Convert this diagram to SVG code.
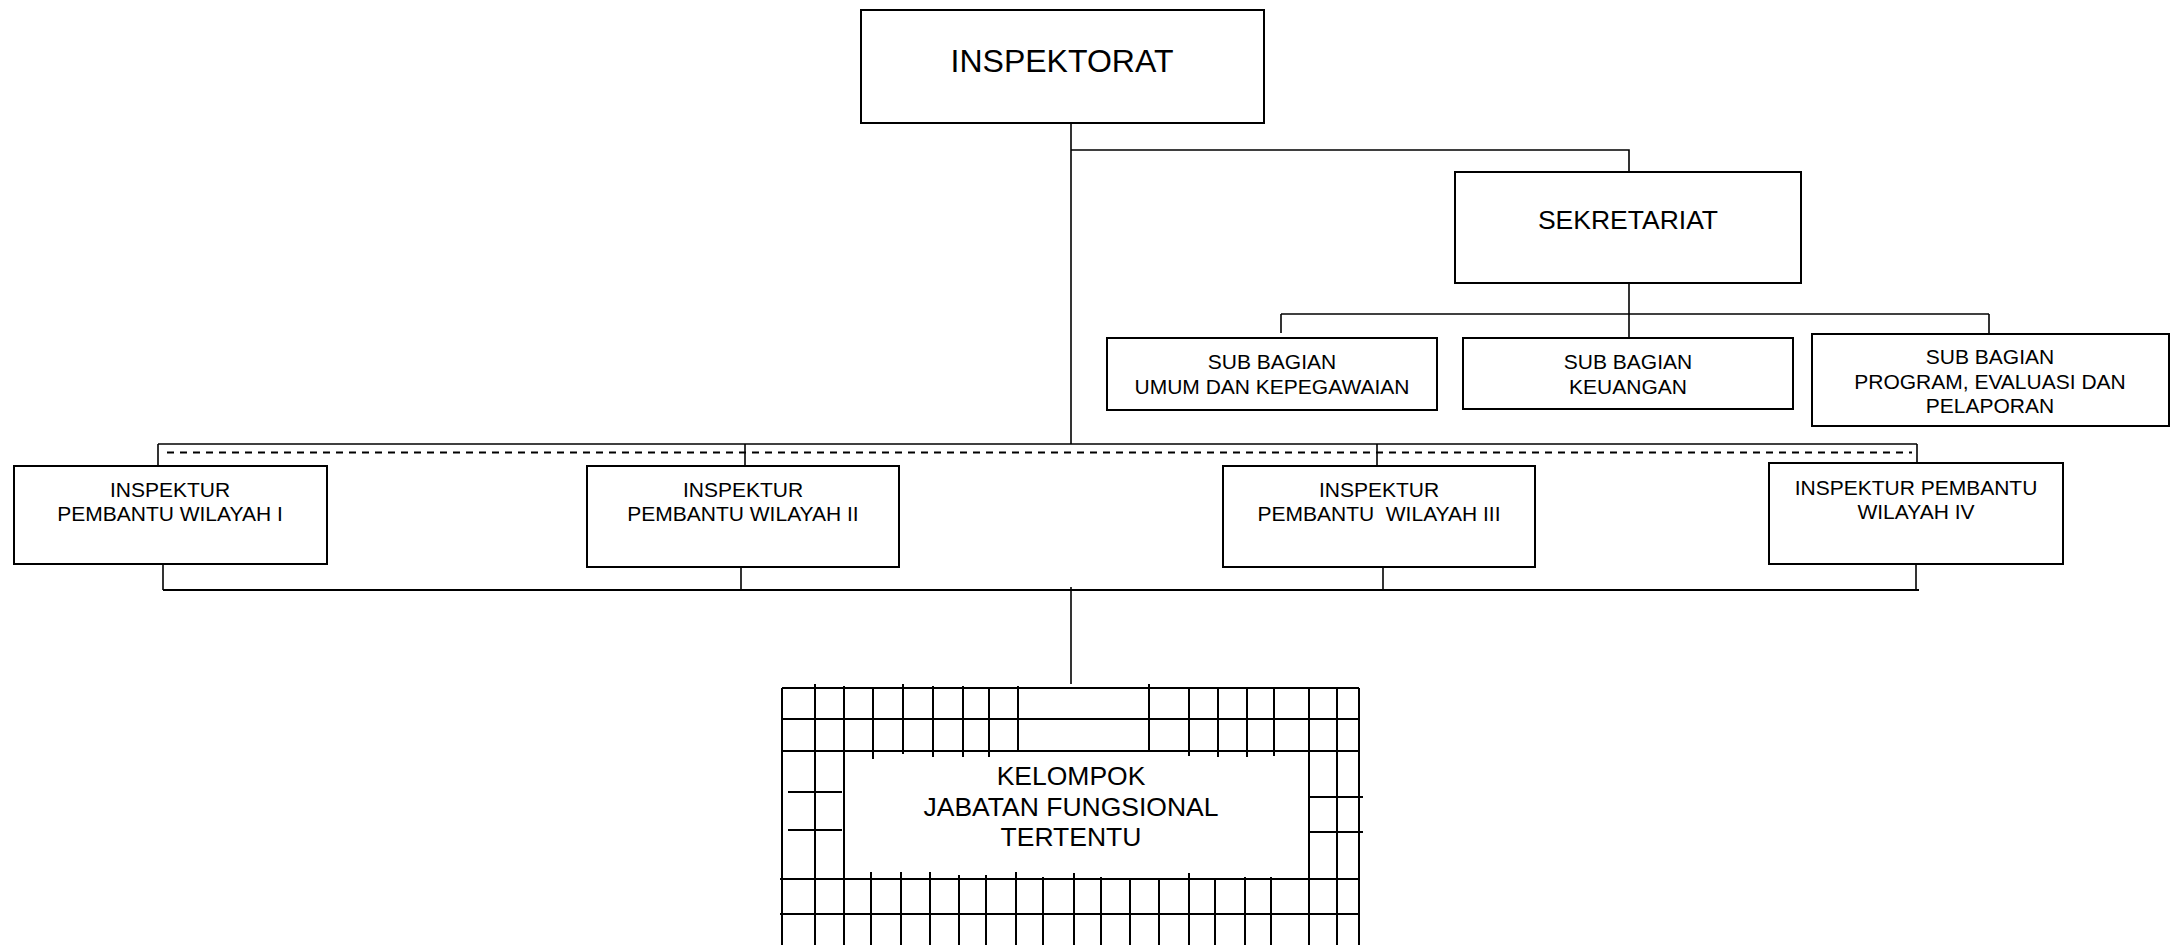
<svg xmlns="http://www.w3.org/2000/svg" width="2174" height="945" viewBox="0 0 2174 945">
<style>
.box{fill:#fff;stroke:#000;stroke-width:2}
.ln{stroke:#000;stroke-width:1.6;fill:none}
.ln2{stroke:#000;stroke-width:2;fill:none}
.dash{stroke:#000;stroke-width:1.8;fill:none;stroke-dasharray:7 6}
.g{stroke:#000;stroke-width:2;fill:none}
text{font-family:"Liberation Sans",Arial,sans-serif;fill:#000;text-anchor:middle}
.t21{font-size:21px}
.t26{font-size:26.5px}
.t32{font-size:32px}
</style>
<rect width="2174" height="945" fill="#fff"/>
<g id="connectors">
<path class="ln" d="M1071 123V444"/>
<path class="ln" d="M1071 150H1629V172"/>
<path class="ln" d="M1629 283V314"/>
<path class="ln" d="M1281 314H1989"/>
<path class="ln" d="M1281 314V333"/>
<path class="ln" d="M1629 314V338"/>
<path class="ln" d="M1989 314V334"/>
<path class="ln" d="M158 444H1917"/>
<path class="dash" d="M167 452.5H1912"/>
<path class="ln" d="M158 444V466"/>
<path class="ln" d="M745 444V466"/>
<path class="ln" d="M1377 444V466"/>
<path class="ln" d="M1917 444V463"/>
<path class="ln" d="M163 562V590"/>
<path class="ln" d="M741 562V590"/>
<path class="ln" d="M1383 562V590"/>
<path class="ln" d="M1916 562V590"/>
<path class="ln2" d="M163 590H1919"/>
<path class="ln" d="M1071 587V684"/>
</g>
<g id="inspektorat">
<rect class="box" x="861" y="10" width="403" height="113"/>
<text class="t32" x="1062" y="72">INSPEKTORAT</text>
</g>
<g id="sekretariat">
<rect class="box" x="1455" y="172" width="346" height="111"/>
<text class="t26" x="1628" y="229">SEKRETARIAT</text>
</g>
<g id="sub-umum">
<rect class="box" x="1107" y="338" width="330" height="72"/>
<text class="t21" x="1272" y="369">SUB BAGIAN</text>
<text class="t21" x="1272" y="394">UMUM DAN KEPEGAWAIAN</text>
</g>
<g id="sub-keuangan">
<rect class="box" x="1463" y="338" width="330" height="71"/>
<text class="t21" x="1628" y="369">SUB BAGIAN</text>
<text class="t21" x="1628" y="394">KEUANGAN</text>
</g>
<g id="sub-program">
<rect class="box" x="1812" y="334" width="357" height="92"/>
<text class="t21" x="1990" y="364">SUB BAGIAN</text>
<text class="t21" x="1990" y="389">PROGRAM, EVALUASI DAN</text>
<text class="t21" x="1990" y="413">PELAPORAN</text>
</g>
<g id="wilayah-1">
<rect class="box" x="14" y="466" width="313" height="98"/>
<text class="t21" x="170" y="497">INSPEKTUR</text>
<text class="t21" x="170" y="521">PEMBANTU WILAYAH I</text>
</g>
<g id="wilayah-2">
<rect class="box" x="587" y="466" width="312" height="101"/>
<text class="t21" x="743" y="497">INSPEKTUR</text>
<text class="t21" x="743" y="521">PEMBANTU WILAYAH II</text>
</g>
<g id="wilayah-3">
<rect class="box" x="1223" y="466" width="312" height="101"/>
<text class="t21" x="1379" y="497">INSPEKTUR</text>
<text class="t21" x="1379" y="521" xml:space="preserve">PEMBANTU  WILAYAH III</text>
</g>
<g id="wilayah-4">
<rect class="box" x="1769" y="463" width="294" height="101"/>
<text class="t21" x="1916" y="495">INSPEKTUR PEMBANTU</text>
<text class="t21" x="1916" y="519">WILAYAH IV</text>
</g>
<g id="kelompok">
<path class="g" d="M782 688V945M1359 688V945M782 688H1359M782 719H1359M782 751H1359M780 879H1359M780 914H1359"/>
<path class="g" d="M788 792H842M788 830H842M1309 797H1363M1309 832H1363"/>
<path class="g" d="M815 684V945M844 686V945M1309 688V945M1337 688V945"/>
<path class="g" d="M873 689V759M903 684V754M933 686V757M963 686V757M989 687V757M1018 686V751M1149 684V752M1189 687V756M1218 687V757M1247 687V757M1274 687V756"/>
<path class="g" d="M871 872V945M901 872V945M930 872V945M959 875V945M986 875V945M1016 872V945M1043 877V945M1074 873V945M1101 877V945M1130 880V945M1159 878V945M1189 873V945M1215 878V945M1245 877V945M1271 877V945"/>
<text class="t26" x="1071" y="785">KELOMPOK</text>
<text class="t26" x="1071" y="816">JABATAN FUNGSIONAL</text>
<text class="t26" x="1071" y="846">TERTENTU</text>
</g>
</svg>
